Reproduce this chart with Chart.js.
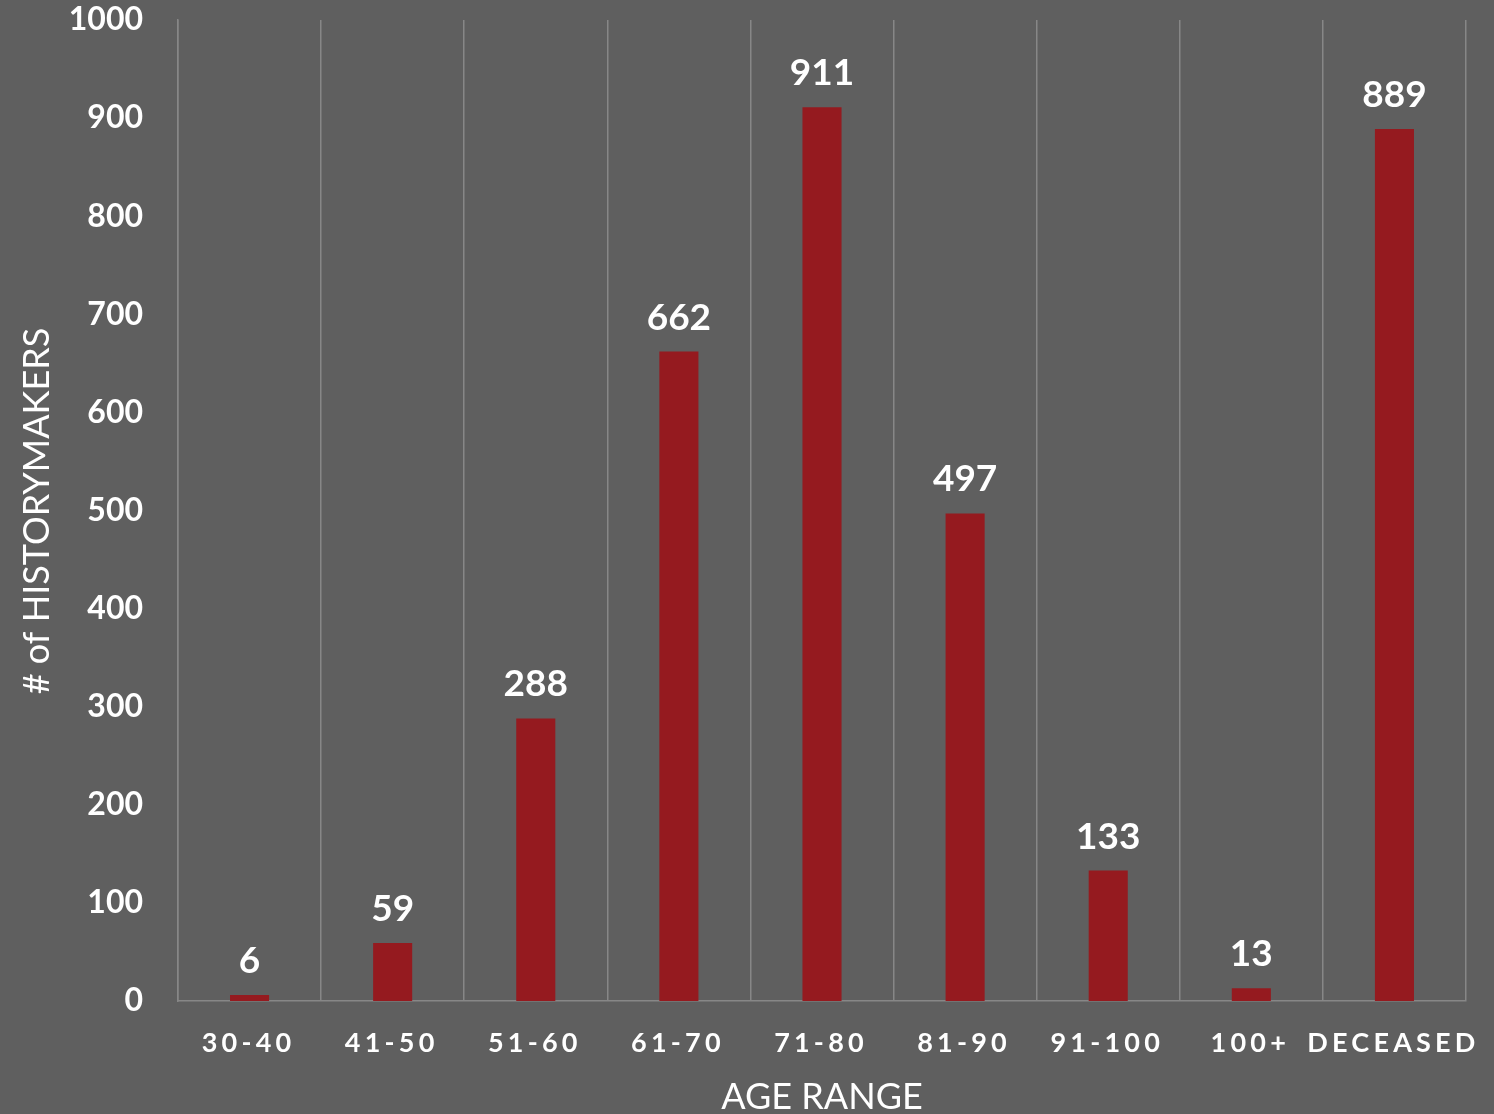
<!DOCTYPE html>
<html>
<head>
<meta charset="utf-8">
<script src="https://cdn.jsdelivr.net/npm/chart.js@4/dist/chart.umd.min.js"></script>
<style>
  html, body { margin: 0; padding: 0; background: #5f5f5f; }
  canvas { display: block; }
</style>
</head>
<body>
<canvas id="c" width="1494" height="1114"></canvas>
<script>
const categories = ["30-40", "41-50", "51-60", "61-70", "71-80", "81-90", "91-100", "100+", "DECEASED"];
const counts = [6, 59, 288, 662, 911, 497, 133, 13, 889];
const yTitle = "# of HISTORYMAKERS";
const xTitle = "AGE RANGE";

const textPlugin = {
  id: 'textPlugin',
  afterDraw(chart) {
    const ctx = chart.ctx;
    const xs = chart.scales.x;
    const meta = chart.getDatasetMeta(0);
    ctx.save();
    ctx.fillStyle = '#ffffff';
    // value labels
    ctx.font = 'bold 37px Lato';
    ctx.textAlign = 'center';
    ctx.textBaseline = 'alphabetic';
    meta.data.forEach((bar, i) => {
      ctx.fillText(String(chart.data.datasets[0].data[i]), bar.x, bar.y - 22);
    });
    // x tick labels with letter spacing
    ctx.font = 'bold 27px Lato';
    const sp = 4.2;
    ctx.letterSpacing = sp + 'px';
    categories.forEach((lab, i) => {
      const x = xs.getPixelForTick(i);
      ctx.fillText(lab, x - 1, 1052);
    });
    ctx.letterSpacing = '0px';
    // axis titles
    ctx.font = '36px Lato';
    ctx.textBaseline = 'middle';
    ctx.fillText(xTitle, (chart.chartArea.left + chart.chartArea.right) / 2, 1097);
    ctx.translate(37, 511);
    ctx.rotate(-Math.PI / 2);
    ctx.fillText(yTitle, 0, 0);
    ctx.restore();
  }
};

new Chart(document.getElementById('c'), {
  type: 'bar',
  data: {
    labels: categories,
    datasets: [{
      data: counts,
      backgroundColor: '#951a1f',
      borderWidth: 0,
      categoryPercentage: 1,
      barPercentage: 0.273
    }]
  },
  options: {
    responsive: false,
    devicePixelRatio: 1,
    animation: false,
    layout: { padding: { top: 20, right: 28, left: 0, bottom: 0 } },
    plugins: { legend: { display: false }, tooltip: { enabled: false } },
    scales: {
      x: {
        grid: { display: true, offset: true, color: '#878787', lineWidth: 1.5, drawTicks: false },
        border: { display: true, color: '#878787', width: 1.5 },
        ticks: { display: false },
        afterFit(scale) { scale.height = 113; scale.paddingLeft = 0; scale.paddingRight = 0; }
      },
      y: {
        min: 0, max: 1000,
        grid: { display: false, drawTicks: false, tickLength: 0 },
        border: { display: true, color: '#878787', width: 1.5 },
        ticks: {
          stepSize: 100,
          color: '#ffffff',
          padding: 35,
          font: { family: 'Lato', weight: 'bold', size: 32 },
          callback: (v) => String(v)
        },
        afterFit(scale) { scale.width = 178; scale.paddingTop = 0; scale.paddingBottom = 0; }
      }
    }
  },
  plugins: [textPlugin]
});
</script>
</body>
</html>
